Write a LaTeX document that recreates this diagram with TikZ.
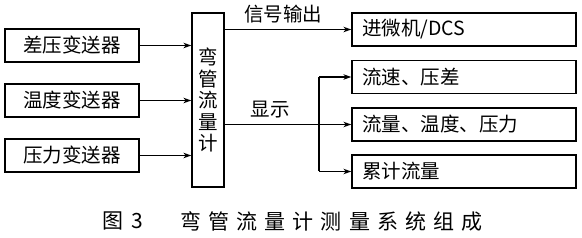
\documentclass[tikz,border=0pt]{standalone}
\usepackage{fontspec}
\setmainfont{Noto Sans CJK SC}
\usetikzlibrary{positioning, arrows.meta}

\tikzset{
  unitbox/.style={draw, line width=1.3pt, inner sep=0pt, minimum height=33pt,
    font=\fontsize{19.5}{19.5}\selectfont},
  srcbox/.style={unitbox, minimum width=134pt},
  outbox/.style={unitbox, minimum width=224pt, text width=204pt, align=left},
  feed/.style={line width=1.5pt, -{Stealth[length=8pt, width=5.5pt]}},
  wire/.style={line width=1.5pt},
  tag/.style={font=\fontsize{19.5}{19.5}\selectfont, inner sep=0pt}
}

\begin{document}
\begin{tikzpicture}[x=1pt, y=-1pt]
  \useasboundingbox (0,0) rectangle (582,238);

  % transmitters
  \node[srcbox] (dp) at (72,45.5) {差压变送器};
  \node[srcbox] (tt) at (72,100.5) {温度变送器};
  \node[srcbox] (pt) at (72,155.5) {压力变送器};

  % meter
  \node[unitbox, minimum width=32pt, minimum height=174pt, align=center,
        font=\fontsize{19.5}{21.5}\selectfont] (meter) at (208,100)
        {弯\\管\\流\\量\\计};

  % outputs
  \node[outbox] (dcs) at (464,29.5) {进微机/DCS};
  \node[outbox] (vel) at (464,77) {流速、压差};
  \node[outbox] (flow) at (464,124.5) {流量、温度、压力};
  \node[outbox] (sum) at (464,171.5) {累计流量};

  \foreach \src in {dp, tt, pt}
    \draw[feed] (\src.east) -- (\src.east -| meter.west);

  \draw[feed] (meter.east |- dcs.west) -- (dcs.west);
  \node[tag] (sig) at (283,14) {信号输出};

  \coordinate (fork) at (319,124.5);
  \draw[wire] (meter.east |- fork) -- (fork);
  \draw[wire] (fork |- vel.west) -- (fork |- sum.west);
  \foreach \dst in {vel, flow, sum}
    \draw[feed] (fork |- \dst.west) -- (\dst.west);
  \node[tag] (show) at (270,110) {显示};

  % caption
  \node[inner sep=0pt, font=\fontsize{21}{21}\selectfont] (fig) at (123,221) {图\hspace{8pt}3};
  \node[inner sep=0pt, anchor=west,
        font=\fontsize{21}{21}\selectfont\addfontfeature{LetterSpace=34}]
        (cap) at (180,221) {弯管流量计测量系统组成};
\end{tikzpicture}
\end{document}
